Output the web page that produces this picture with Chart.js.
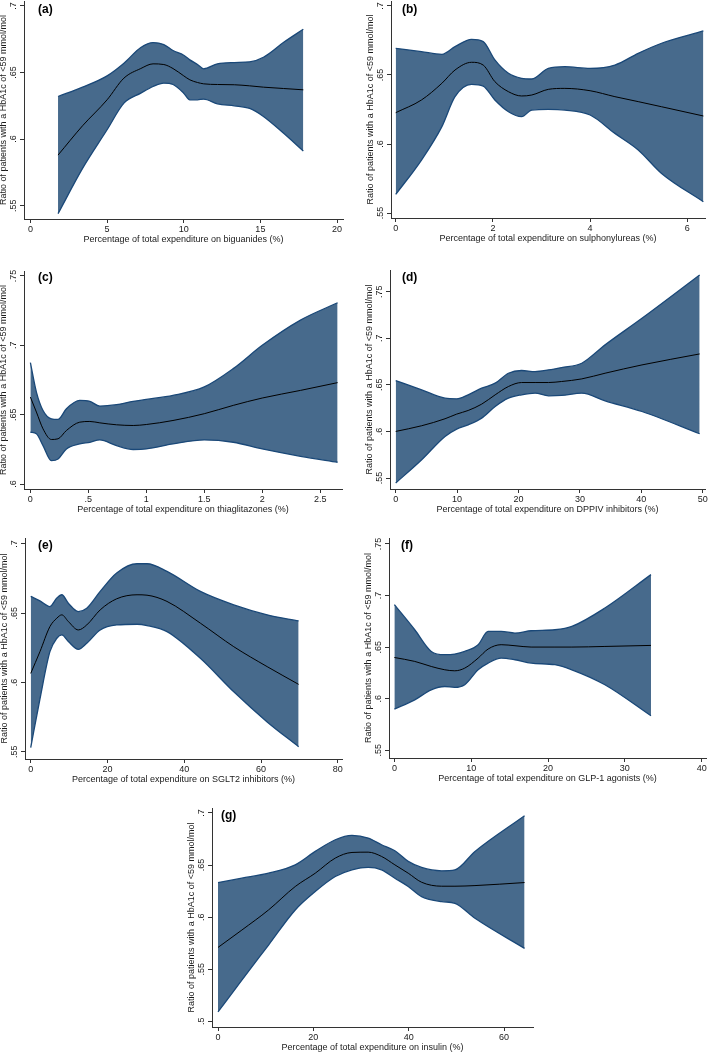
<!DOCTYPE html>
<html><head><meta charset="utf-8">
<script src="https://cdn.jsdelivr.net/npm/chart.js@4"></script>
<style>
html,body{margin:0;padding:0;background:#fff;}
body{width:709px;height:1052px;position:relative;overflow:hidden;}
canvas{position:absolute;}
.lbl{position:absolute;font:bold 12px "Liberation Sans",Arial,sans-serif;color:#000;line-height:12px;white-space:nowrap;}
</style></head><body>
<script>
// ---------- DATA ----------
// (a) biguanides
const aX      = [1.8, 3.4, 5.0, 6.1, 7.2, 8.0, 8.7, 9.3, 10.0, 10.4, 10.9, 11.3, 12.2, 13.3, 14.3, 15.2, 16.5, 17.8];
const aFit    = [.588, .610, .6295, .6458, .653, .6565, .656, .653, .6475, .6445, .6425, .6415, .641, .6408, .640, .639, .638, .637];
const aUpper  = [.632, .639, .6475, .657, .6688, .6725, .671, .6665, .663, .6595, .656, .6528, .6565, .6575, .658, .6615, .6725, .6825];
const aLower  = [.544, .578, .607, .627, .6345, .6395, .642, .641, .6345, .6295, .6295, .630, .6265, .625, .623, .617, .6045, .591];
const aXTicks = [0, 5, 10, 15, 20];
const aXLabels = ['0', '5', '10', '15', '20'];
const aYTicks = [.55, .6, .65, .7];
const aYLabels = ['.55', '.6', '.65', '.7'];

// (b) sulphonylureas
const bX      = [0, .53, .95, 1.22, 1.56, 1.80, 2.04, 2.32, 2.59, 2.80, 3.14, 3.48, 4.0, 4.51, 4.99, 5.47, 6.33];
const bFit    = [.6227, .6319, .644, .6536, .6592, .6572, .6452, .6379, .6348, .6355, .6396, .6403, .6386, .6343, .6307, .627, .6203];
const bUpper  = [.6693, .6669, .665, .6705, .6758, .6742, .6609, .6512, .6476, .6471, .6548, .656, .6548, .6572, .6657, .673, .6819];
const bLower  = [.5635, .5884, .6126, .6343, .6432, .642, .6319, .6234, .6198, .6246, .6251, .6246, .621, .6077, .5957, .5787, .5582];
const bXTicks = [0, 2, 4, 6];
const bXLabels = ['0', '2', '4', '6'];
const bYTicks = [.55, .6, .65, .7];
const bYLabels = ['.55', '.6', '.65', '.7'];

// (c) thiaglitazones
const cX      = [0, .052, .109, .181, .239, .311, .426, .513, .599, .743, .887, 1.0, 1.23, 1.5, 1.75, 2.0, 2.33, 2.65];
const cFit    = [.6627, .6519, .6398, .6321, .6326, .6386, .6446, .6451, .6441, .6427, .6422, .6429, .6458, .6507, .6567, .662, .6675, .6731];
const cUpper  = [.6875, .6663, .653, .647, .6466, .6543, .6603, .6596, .6562, .6572, .6596, .661, .6639, .67, .6832, .70, .7182, .7307];
const cLower  = [.6374, .6362, .6277, .6169, .6181, .6253, .6289, .6301, .6318, .6277, .6249, .6253, .6289, .6318, .6301, .6253, .62, .6157];
const cXTicks = [0, .5, 1, 1.5, 2, 2.5];
const cXLabels = ['0', '.5', '1', '1.5', '2', '2.5'];
const cYTicks = [.6, .65, .7, .75];
const cYLabels = ['.6', '.65', '.7', '.75'];

// (d) DPPIV inhibitors
const dX      = [0, 4.23, 8.03, 9.93, 11.8, 14.0, 16.2, 18.35, 20.5, 22.7, 24.9, 27.0, 30.3, 34.1, 40.1, 49.5];
const dFit    = [.6, .6061, .6136, .6186, .6225, .6293, .6393, .6482, .6525, .6525, .6525, .6536, .6564, .6625, .6714, .6832];
const dUpper  = [.6546, .6446, .6357, .635, .6393, .6464, .6518, .6625, .6654, .6643, .6661, .6686, .6732, .6929, .7214, .7679];
const dLower  = [.5446, .5696, .5946, .6025, .6071, .6143, .6268, .6357, .6393, .6411, .6382, .6386, .6411, .6329, .6214, .5975];
const dXTicks = [0, 10, 20, 30, 40, 50];
const dXLabels = ['0', '10', '20', '30', '40', '50'];
const dYTicks = [.55, .6, .65, .7, .75];
const dYLabels = ['.55', '.6', '.65', '.7', '.75'];

// (e) SGLT2 inhibitors
const eX      = [0, 2.4, 5.0, 6.8, 8.1, 9.8, 12.4, 14.6, 18.1, 22.4, 27.7, 30.3, 35.5, 44.2, 52.9, 61.6, 69.8];
const eFit    = [.6065, .6222, .6403, .6464, .6488, .644, .6379, .6415, .6524, .6604, .6633, .663, .6585, .6428, .6258, .6114, .5986];
const eUpper  = [.6621, .6589, .6548, .6609, .6633, .6572, .6512, .6536, .6657, .679, .6857, .6857, .6802, .6657, .656, .6488, .6444];
const eLower  = [.553, .588, .6222, .6319, .6343, .6295, .6239, .6283, .6379, .6415, .642, .6411, .6367, .6174, .5932, .5715, .5536];
const eXTicks = [0, 20, 40, 60, 80];
const eXLabels = ['0', '20', '40', '60', '80'];
const eYTicks = [.55, .6, .65, .7];
const eYLabels = ['.55', '.6', '.65', '.7'];

// (f) GLP-1 agonists
const fX      = [0, 2.65, 4.8, 6.56, 7.86, 9.16, 10.9, 12.2, 13.9, 15.7, 17.8, 20.9, 23.1, 27.4, 33.4];
const fFit    = [.640, .6362, .6313, .6281, .6271, .6297, .6394, .6482, .6524, .6514, .6501, .6501, .6501, .6507, .6517];
const fUpper  = [.6912, .6669, .6459, .6427, .6433, .6459, .6524, .6653, .6653, .6637, .6659, .6669, .6701, .6879, .7203];
const fLower  = [.59, .599, .6087, .6119, .611, .6136, .6281, .6346, .6394, .6378, .6346, .633, .6281, .6136, .5835];
const fXTicks = [0, 10, 20, 30, 40];
const fXLabels = ['0', '10', '20', '30', '40'];
const fYTicks = [.55, .6, .65, .7, .75];
const fYLabels = ['.55', '.6', '.65', '.7', '.75'];

// (g) insulin
const gX      = [0, 5.0, 10.6, 16.2, 20.4, 24.6, 28.1, 31.5, 34.3, 37.1, 39.9, 42.7, 46.9, 49.7, 53.9, 64.3];
const gFit    = [.5709, .5876, .6069, .6294, .6422, .6567, .6621, .6624, .6583, .6502, .6422, .6335, .6297, .6297, .6303, .6332];
const gUpper  = [.6332, .6374, .6422, .6502, .6631, .6743, .6785, .6759, .6695, .6637, .6535, .6477, .6445, .6454, .6631, .6974];
const gLower  = [.509, .5395, .5732, .6069, .6246, .639, .6454, .6477, .6454, .6374, .6294, .6197, .6149, .6133, .5989, .57];
const gXTicks = [0, 20, 40, 60];
const gXLabels = ['0', '20', '40', '60'];
const gYTicks = [.5, .55, .6, .65, .7];
const gYLabels = ['.5', '.55', '.6', '.65', '.7'];

const yTitle = 'Ratio of patients with a HbA1c of <59 mmol/mol';

// ---------- LAYOUT / STYLE ----------
const FONT = '"Liberation Sans", Arial, sans-serif';
const FILL = 'rgb(71,106,140)';
const EDGE = 'rgb(26,72,120)';
const AXIS = '#333';
const TXT = '#1a1a1a';

const panels = [
  {label:'(a)', x:aX, fit:aFit, up:aUpper, lo:aLower, xt:aXTicks, xl:aXLabels, yt:aYTicks, yl:aYLabels,
   title:'Percentage of total expenditure on biguanides (%)',
   L:24, R:343, T:1, B:219, xmin:-0.42, xmax:20.39, ymin:.540, ymax:.7037, lx:38, ly:3},
  {label:'(b)', x:bX, fit:bFit, up:bUpper, lo:bLower, xt:bXTicks, xl:bXLabels, yt:bYTicks, yl:bYLabels,
   title:'Percentage of total expenditure on sulphonylureas (%)',
   L:391, R:705, T:1, B:218, xmin:-0.097, xmax:6.364, ymin:.5464, ymax:.7036, lx:402, ly:3},
  {label:'(c)', x:cX, fit:cFit, up:cUpper, lo:cLower, xt:cXTicks, xl:cXLabels, yt:cYTicks, yl:cYLabels,
   title:'Percentage of total expenditure on thiaglitazones (%)',
   L:24, R:342, T:271, B:489, xmin:-0.055, xmax:2.688, ymin:.5964, ymax:.7536, lx:38, ly:271},
  {label:'(d)', x:dX, fit:dFit, up:dUpper, lo:dLower, xt:dXTicks, xl:dXLabels, yt:dYTicks, yl:dYLabels,
   title:'Percentage of total expenditure on DPPIV inhibitors (%)',
   L:390, R:705, T:270, B:489, xmin:-0.93, xmax:50.37, ymin:.5382, ymax:.7733, lx:402, ly:271},
  {label:'(e)', x:eX, fit:eFit, up:eUpper, lo:eLower, xt:eXTicks, xl:eXLabels, yt:eYTicks, yl:eYLabels,
   title:'Percentage of total expenditure on SGLT2 inhibitors (%)',
   L:25, R:342, T:538, B:759, xmin:-1.49, xmax:81.1, ymin:.5447, ymax:.7043, lx:38, ly:539},
  {label:'(f)', x:fX, fit:fFit, up:fUpper, lo:fLower, xt:fXTicks, xl:fXLabels, yt:fYTicks, yl:fYLabels,
   title:'Percentage of total expenditure on GLP-1 agonists (%)',
   L:389, R:706, T:538, B:758, xmin:-0.70, xmax:40.56, ymin:.5426, ymax:.7558, lx:401, ly:539},
  {label:'(g)', x:gX, fit:gFit, up:gUpper, lo:gLower, xt:gXTicks, xl:gXLabels, yt:gYTicks, yl:gYLabels,
   title:'Percentage of total expenditure on insulin (%)',
   L:212, R:533, T:808, B:1027, xmin:-1.26, xmax:66.07, ymin:.4945, ymax:.7048, lx:221, ly:809}
];

const YW = 30, PT = 6, PR = 4, XH = 28;

function build(p) {
  const c = document.createElement('canvas');
  const w = (p.R - p.L) + YW + PR, h = (p.B - p.T) + PT + XH;
  c.width = w; c.height = h;
  c.style.left = (p.L - YW) + 'px'; c.style.top = (p.T - PT) + 'px';
  c.style.width = w + 'px'; c.style.height = h + 'px';
  document.body.appendChild(c);
  const pts = arr => p.x.map((x, i) => ({x: x, y: arr[i]}));
  const tickFont = {family: FONT, size: 9};
  new Chart(c, {
    type: 'line',
    data: {datasets: [
      {data: pts(p.up), borderColor: EDGE, borderWidth: 1.3, backgroundColor: FILL, fill: '+1',
       pointRadius: 0, cubicInterpolationMode: 'monotone', order: 2},
      {data: pts(p.lo), borderColor: EDGE, borderWidth: 1.3, backgroundColor: FILL, fill: false,
       pointRadius: 0, cubicInterpolationMode: 'monotone', order: 1},
      {data: pts(p.fit), borderColor: '#000', borderWidth: 1, fill: false,
       pointRadius: 0, cubicInterpolationMode: 'monotone', order: 0}
    ]},
    options: {
      responsive: false, animation: false, devicePixelRatio: 1,
      layout: {padding: {top: PT, right: PR, left: 0, bottom: 0}, autoPadding: false},
      plugins: {legend: {display: false}, tooltip: {enabled: false}, filler: {drawTime: 'beforeDatasetsDraw'}},
      scales: {
        x: {
          type: 'linear', min: p.xmin, max: p.xmax,
          afterBuildTicks: s => { s.ticks = p.xt.map(v => ({value: v})); },
          afterFit: s => { s.height = XH; },
          ticks: {callback: (v, i) => p.xl[i], font: tickFont, color: TXT, padding: 1,
                  maxRotation: 0, minRotation: 0, autoSkip: false},
          grid: {display: true, drawOnChartArea: false, drawTicks: true, tickLength: 4, color: AXIS, lineWidth: 1},
          border: {display: true, color: AXIS, width: 1},
          title: {display: true, text: p.title, font: {family: FONT, size: 9}, color: TXT,
                  padding: {top: 0, bottom: 2}}
        },
        y: {
          type: 'linear', min: p.ymin, max: p.ymax,
          afterBuildTicks: s => { s.ticks = p.yt.map(v => ({value: v})); },
          afterFit: s => { s.width = YW; },
          ticks: {callback: (v, i) => p.yl[i], font: tickFont, color: TXT, padding: 0,
                  minRotation: 90, maxRotation: 90, crossAlign: 'center', autoSkip: false},
          grid: {display: true, drawOnChartArea: false, drawTicks: true, tickLength: 4, color: AXIS, lineWidth: 1},
          border: {display: true, color: AXIS, width: 1},
          title: {display: true, text: yTitle, font: {family: FONT, size: 9}, color: TXT,
                  padding: {top: 4, bottom: 0}}
        }
      }
    }
  });
  const d = document.createElement('div');
  d.className = 'lbl';
  d.textContent = p.label;
  d.style.left = p.lx + 'px';
  d.style.top = p.ly + 'px';
  document.body.appendChild(d);
}

panels.forEach(build);
</script>
</body></html>
